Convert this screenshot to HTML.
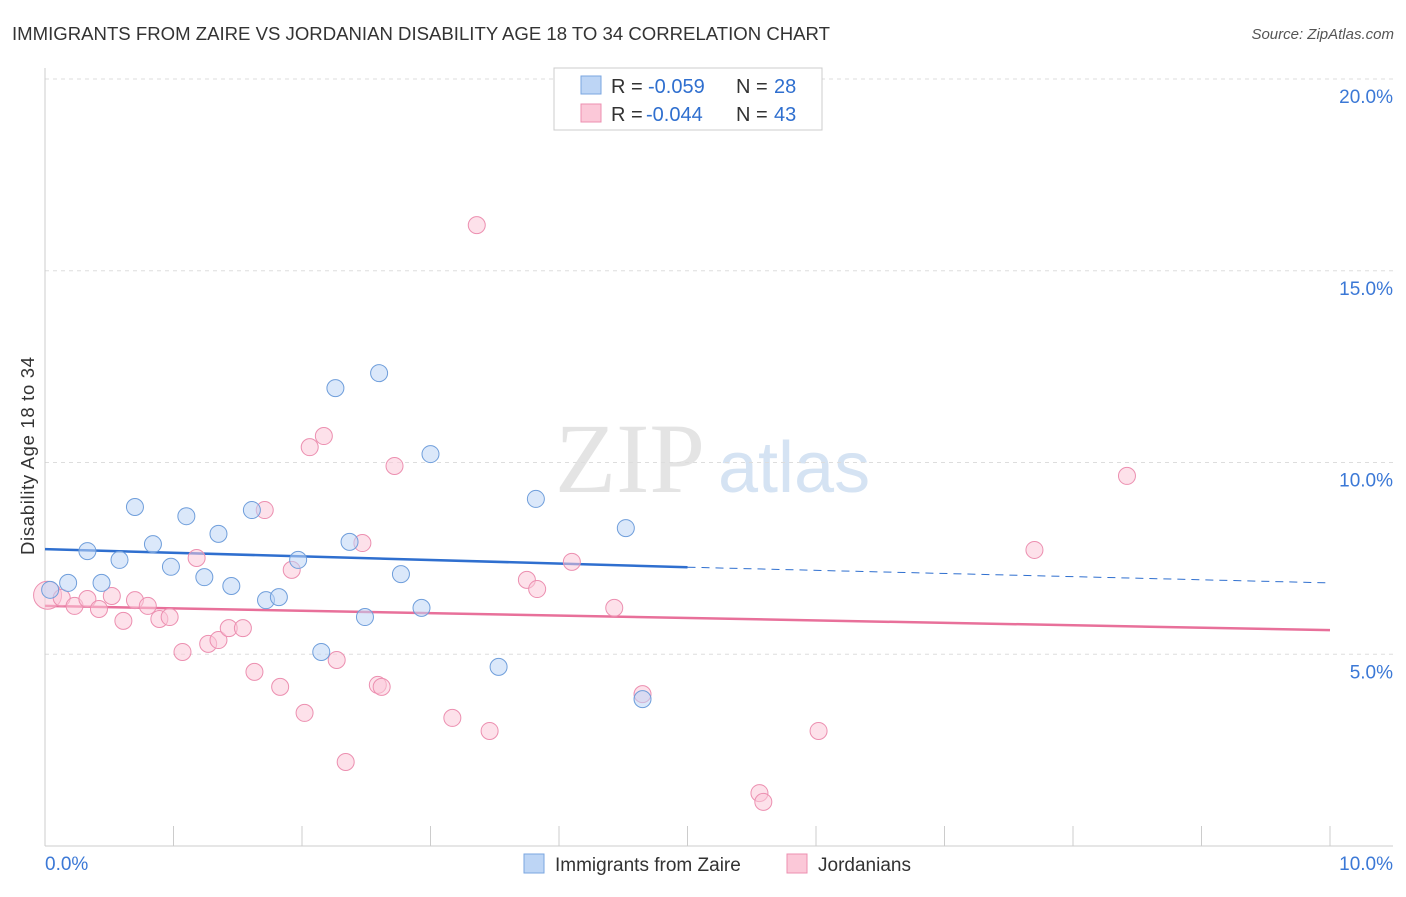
<!DOCTYPE html>
<html><head><meta charset="utf-8"><style>
body{margin:0;background:#fff;font-family:"Liberation Sans",sans-serif;}
#wrap{position:relative;width:1406px;height:892px;}
</style></head><body>
<div id="wrap">
<svg id="svg" width="1406" height="892">
<text x="12" y="40" font-size="18" fill="#333" textLength="818" lengthAdjust="spacingAndGlyphs">IMMIGRANTS FROM ZAIRE VS JORDANIAN DISABILITY AGE 18 TO 34 CORRELATION CHART</text>
<text x="1394" y="39" font-size="15" fill="#555" font-style="italic" text-anchor="end">Source: ZipAtlas.com</text>
<text x="34" y="456" font-size="18.5" fill="#333" transform="rotate(-90 34 456)" text-anchor="middle" textLength="198">Disability Age 18 to 34</text>
<text x="555" y="492" font-size="100" fill="#e4e4e4" font-family="Liberation Serif,serif">ZIP</text>
<text x="718" y="492" font-size="72" fill="#d5e3f3">atlas</text>
<g id="grid"></g><g id="axes"></g><g id="trends"></g><g id="pts"></g>
<g>
<rect x="554" y="68" width="268" height="62" fill="#fff" stroke="#ccc"/>
<rect x="581" y="76" width="20" height="18" fill="#bdd5f5" stroke="#7aa6e0"/>
<text x="611" y="93" font-size="20" fill="#333">R =</text>
<text x="648" y="93" font-size="20" fill="#2f6fcf">-0.059</text>
<text x="736" y="93" font-size="20" fill="#333">N =</text>
<text x="774" y="93" font-size="20" fill="#2f6fcf">28</text>
<rect x="581" y="104" width="20" height="18" fill="#fbc8d8" stroke="#ec8fb0"/>
<text x="611" y="121" font-size="20" fill="#333">R =</text>
<text x="646" y="121" font-size="20" fill="#2f6fcf">-0.044</text>
<text x="736" y="121" font-size="20" fill="#333">N =</text>
<text x="774" y="121" font-size="20" fill="#2f6fcf">43</text>
</g>
<g>
<rect x="524" y="854" width="20" height="19" fill="#bdd5f5" stroke="#7aa6e0"/>
<text x="555" y="871" font-size="19" fill="#333">Immigrants from Zaire</text>
<rect x="787" y="854" width="20" height="19" fill="#fbc8d8" stroke="#ec8fb0"/>
<text x="818" y="871" font-size="19" fill="#333">Jordanians</text>
</g>
</svg>
</div>
<script>
const blueX=[0.04,0.18,0.33,0.44,0.58,0.70,0.84,0.98,1.10,1.24,1.35,1.45,1.61,1.72,1.82,1.97,2.15,2.26,2.37,2.49,2.60,2.77,2.93,3.00,3.53,3.82,4.52,4.65];
const blueY=[6.68,6.86,7.69,6.86,7.46,8.84,7.87,7.28,8.60,7.01,8.14,6.78,8.76,6.41,6.49,7.46,5.06,11.94,7.93,5.97,12.33,7.09,6.21,10.22,4.67,9.05,8.29,3.83];
const pinkX=[0.02,0.13,0.23,0.33,0.42,0.52,0.61,0.70,0.80,0.89,0.97,1.07,1.18,1.27,1.35,1.43,1.54,1.63,1.71,1.83,1.92,2.02,2.06,2.17,2.27,2.34,2.47,2.59,2.62,2.72,3.17,3.36,3.46,3.75,3.83,4.10,4.43,4.65,5.56,5.59,6.02,7.70,8.42];
const pinkY=[6.54,6.47,6.26,6.44,6.18,6.52,5.87,6.41,6.26,5.92,5.97,5.06,7.51,5.27,5.37,5.68,5.68,4.54,8.76,4.15,7.20,3.47,10.40,10.69,4.85,2.19,7.90,4.20,4.15,9.91,3.34,16.19,3.00,6.94,6.70,7.41,6.21,3.96,1.38,1.15,3.00,7.72,9.65];
const blueTrend=[7.74,7.27,6.86];
const pinkTrend=[6.26,5.63];
const yTicks=[5,10,15,20];
const xTickLabels=["0.0%","10.0%"];
const NS="http://www.w3.org/2000/svg";
const sx=v=>45+v*128.5, sy=v=>846-v*38.35;
function mk(tag,attrs,parent){const e=document.createElementNS(NS,tag);for(const k in attrs)e.setAttribute(k,attrs[k]);document.getElementById(parent).appendChild(e);return e;}
yTicks.forEach(t=>{
 const l=mk('line',{x1:45,x2:1393,y1:sy(t),y2:sy(t),stroke:'#ddd','stroke-dasharray':'4,4'},'grid');
 
 
 const tx=mk('text',{x:1393,y:sy(t)+24,'font-size':19,fill:'#3b78d6','text-anchor':'end'},'grid');
 tx.textContent=t.toFixed(1)+'%';
 
 
});
const xa=mk('line',{x1:45,x2:1393,y1:846,y2:846,stroke:'#ccc'},'axes');


const ya=mk('line',{x1:45,x2:45,y1:68,y2:846,stroke:'#ccc'},'axes');


for(let i=1;i<=10;i++){const t=mk('line',{x1:sx(i),x2:sx(i),y1:826,y2:846,stroke:'#ccc'},'axes');
 
 }
[[0,'start',45],[10,'end',1393]].forEach((d,i)=>{const t=mk('text',{x:d[2],y:870,'font-size':19,fill:'#3b78d6','text-anchor':d[1]},'axes');t.textContent=xTickLabels[i];
 
 });
function pts(X,Y,fill,stroke,name){X.forEach((x,i)=>{const c=mk('circle',{cx:sx(x),cy:sy(Y[i]),r:i===0&&name==='pink-point'?14:8.5,fill:fill,'fill-opacity':0.55,stroke:stroke,'stroke-width':1},'pts');
 
 });}
pts(pinkX,pinkY,'#fbc8d8','#ec8fb0','pink-point');
pts(blueX,blueY,'#bdd5f5','#6f9edb','blue-point');
const b1=mk('line',{x1:sx(0),y1:sy(blueTrend[0]),x2:sx(5),y2:sy(blueTrend[1]),stroke:'#2f6fcf','stroke-width':2.5},'trends');


const b2=mk('line',{x1:sx(5),y1:sy(blueTrend[1]),x2:sx(10),y2:sy(blueTrend[2]),stroke:'#2f6fcf','stroke-width':1,'stroke-dasharray':'8,6'},'trends');


const p1=mk('line',{x1:sx(0),y1:sy(pinkTrend[0]),x2:sx(10),y2:sy(pinkTrend[1]),stroke:'#e8709a','stroke-width':2.5},'trends');


</script>
</body></html>
